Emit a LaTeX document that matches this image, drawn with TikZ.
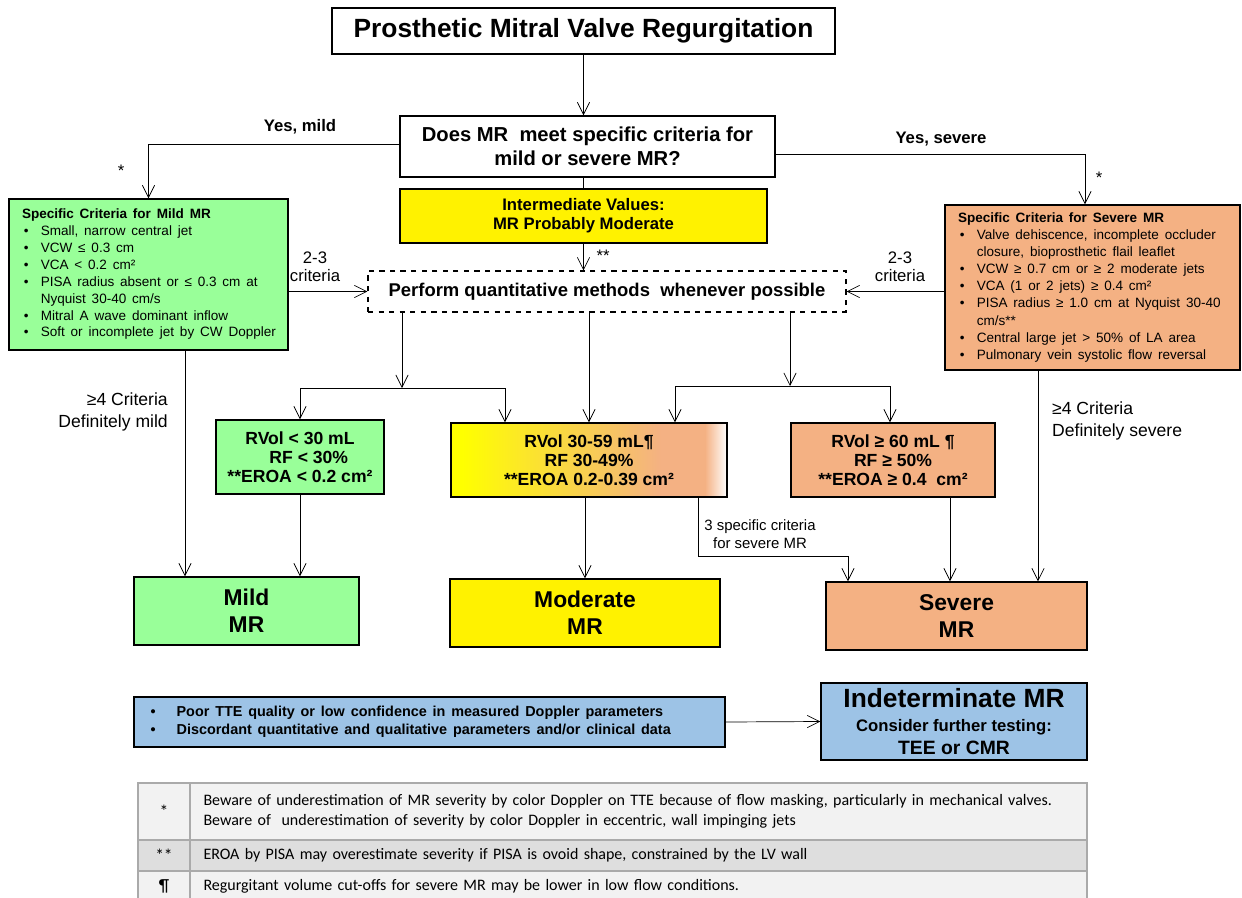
\documentclass[tikz,border=0pt]{standalone}
\usepackage{fontspec}
\setmainfont{Liberation Sans}
\newfontfamily\notefont{Carlito}
\usetikzlibrary{arrows.meta}
\newlength\pxl
\setlength\pxl{0.02cm}
\definecolor{mildgreen}{RGB}{153,255,153}
\definecolor{sevorange}{RGB}{244,177,131}
\definecolor{indetblue}{RGB}{157,195,230}
\definecolor{rowlight}{RGB}{242,242,242}
\definecolor{rowdark}{RGB}{222,222,222}
\definecolor{gridgray}{RGB}{170,170,170}
\pgfdeclarehorizontalshading{modgrad}{100bp}{color(0bp)=(yellow); color(27bp)=(yellow); color(63bp)=(sevorange); color(71bp)=(sevorange); color(75bp)=(white); color(100bp)=(white)}
\tikzset{
	x=\pxl, y=-\pxl,
	>={Straight Barb[length=7pt,width=7pt]},
	box/.style={draw, line width=0.8pt, align=center, inner sep=0pt},
	crit/.style={draw, line width=0.8pt, align=left, inner ysep=0pt, inner xsep=13\pxl},
	lbl/.style={font=\fontsize{9.5}{10.5}\selectfont, align=center},
	cell/.style={draw=gridgray, line width=1.2pt, inner sep=0pt}
}

\begin{document}
\begin{tikzpicture}
\useasboundingbox (0,0) rectangle (1242,897);

% top of the chart
\node[box, minimum width=503\pxl, minimum height=46\pxl, font=\fontsize{15}{18}\selectfont\bfseries] (title) at (583.5,31) {\raisebox{-2pt}{Prosthetic Mitral Valve Regurgitation}};
\node[box, minimum width=375\pxl, minimum height=61\pxl, font=\fontsize{11.5}{13.6}\selectfont\bfseries] (question) at (587.5,146.5) {Does MR~ meet specific criteria for\\mild or severe MR?};
\node[box, fill=yellow, minimum width=367\pxl, minimum height=54\pxl, font=\fontsize{9.5}{11}\selectfont\bfseries] (interm) at (583.5,216) {Intermediate Values:\\MR Probably Moderate};
\node[box, dashed, line width=0.6pt, minimum width=478\pxl, minimum height=41\pxl, font=\fontsize{10.5}{12}\selectfont\bfseries] (quant) at (607,291.5) {Perform quantitative methods~ whenever possible};

% specific criteria
\node[crit, fill=mildgreen, text width=253\pxl, minimum height=151\pxl] (mildcrit) at (148.5,274.5) {\fontsize{7.7}{9.6}\selectfont
\begin{tabular}{@{\hspace{1pt}}l@{\hspace{7pt}}l@{}}
\multicolumn{2}{@{}l@{}}{\bfseries Specific Criteria for Mild MR}\\
• & Small, narrow central jet\\
• & VCW ≤ 0.3 cm\\
• & VCA < 0.2 cm²\\
• & PISA radius absent or ≤ 0.3 cm at\\
  & Nyquist 30-40 cm/s\\
• & Mitral A wave dominant inflow\\
• & Soft or incomplete jet by CW Doppler
\end{tabular}};
\node[crit, fill=sevorange, text width=269\pxl, minimum height=165\pxl] (sevcrit) at (1092.5,287.5) {\fontsize{7.7}{9.7}\selectfont
\begin{tabular}{@{\hspace{1pt}}l@{\hspace{7pt}}l@{}}
\multicolumn{2}{@{}l@{}}{\bfseries Specific Criteria for Severe MR}\\
• & Valve dehiscence, incomplete occluder\\
  & closure, bioprosthetic flail leaflet\\
• & VCW ≥ 0.7 cm or ≥ 2 moderate jets\\
• & VCA (1 or 2 jets) ≥ 0.4 cm²\\
• & PISA radius ≥ 1.0 cm at Nyquist 30-40\\
  & cm/s**\\
• & Central large jet > 50\% of LA area\\
• & Pulmonary vein systolic flow reversal
\end{tabular}};

% quantitative values
\node[box, fill=mildgreen, minimum width=168\pxl, minimum height=74\pxl, font=\fontsize{10}{10.8}\selectfont\bfseries] (mildq) at (300,457) {RVol < 30 mL\\\hspace{1em}RF < 30\%\\**EROA < 0.2 cm²};
\node[box, shading=modgrad, minimum width=276\pxl, minimum height=74\pxl, font=\fontsize{10}{10.8}\selectfont\bfseries] (modq) at (589,460) {RVol 30-59 mL¶\\RF 30-49\%\\**EROA 0.2-0.39 cm²};
\node[box, fill=sevorange, minimum width=204\pxl, minimum height=74\pxl, font=\fontsize{10}{10.8}\selectfont\bfseries] (sevq) at (893,460) {RVol ≥ 60 mL ¶\\RF ≥ 50\%\\**EROA ≥ 0.4~ cm²};

% grades
\node[box, fill=mildgreen, minimum width=225\pxl, minimum height=68\pxl, font=\fontsize{13}{15.5}\selectfont\bfseries] (mild) at (246.5,611) {Mild\\MR};
\node[box, fill=yellow, minimum width=270\pxl, minimum height=68\pxl, font=\fontsize{13}{15.5}\selectfont\bfseries] (moderate) at (585,613) {Moderate\\MR};
\node[box, fill=sevorange, minimum width=261\pxl, minimum height=68\pxl, font=\fontsize{13}{15.5}\selectfont\bfseries] (severe) at (956.5,616) {Severe\\MR};

% indeterminate
\node[crit, fill=indetblue, text width=565\pxl, minimum height=50\pxl, inner xsep=13\pxl] (poor) at (429.5,722) {\fontsize{8.2}{10.2}\selectfont\bfseries
\begin{tabular}{@{\hspace{2pt}}l@{\hspace{12pt}}l@{}}
• & Poor TTE quality or low confidence in measured Doppler parameters\\
• & Discordant quantitative and qualitative parameters and/or clinical data
\end{tabular}};
\node[box, fill=indetblue, minimum width=266\pxl, minimum height=77\pxl, font=\fontsize{11}{13}\selectfont\bfseries] (indet) at (954,721.5) {{\fontsize{15}{17}\selectfont Indeterminate MR}\\[1pt]{\fontsize{9.5}{11}\selectfont Consider further testing:}\\TEE or CMR};

% connectors
\draw[->] (title.south) -- (title.south |- question.north);
\draw[->] (question.west |- 0,144) -| (mildcrit.north);
\draw[->] (question.east |- 0,154) -| (sevcrit.north -| 1085,0);
\draw (question.south -| interm.north) -- (interm.north);
\draw[->] (interm.south) -- (interm.south |- quant.north);
\draw[->] (quant.west -| mildcrit.east) -- (quant.west);
\draw[->] (quant.east -| sevcrit.west) -- (quant.east);

\coordinate (lsplit) at (402,388);
\coordinate (rsplit) at (790,386);
\draw[->] (quant.south -| lsplit) -- (lsplit);
\draw[->] (lsplit) -| (mildq.north);
\draw[->] (lsplit) -| (modq.north -| 505,0);
\draw[->] (quant.south -| modq.north) -- (modq.north);
\draw[->] (quant.south -| rsplit) -- (rsplit);
\draw[->] (rsplit) -| (modq.north -| 675,0);
\draw[->] (rsplit) -| (sevq.north -| 890,0);

\draw[->] (mildcrit.south -| 185,0) -- (mild.north -| 185,0);
\draw[->] (mildq.south) -- (mildq.south |- mild.north);
\draw[->] (modq.south -| moderate.north) -- (moderate.north);
\draw[->] (modq.south -| 698,0) -- (698,556) -| (severe.north -| 848,0);
\draw[->] (sevq.south -| 950,0) -- (severe.north -| 950,0);
\draw[->] (sevcrit.south -| 1038,0) -- (severe.north -| 1038,0);
\draw[->] (poor.east) -- (indet.west);

% labels
\node[lbl, font=\fontsize{9.5}{11}\selectfont\bfseries] (yesmild) at (300,127) {Yes, mild};
\node[lbl, font=\fontsize{9.5}{11}\selectfont\bfseries] (yessev) at (941,139) {Yes, severe};
\node[lbl] (starl) at (121,171) {*};
\node[lbl] (starr) at (1099,178) {*};
\node[lbl] (dstar) at (603,256) {**};
\node[lbl] (critl) at (315,267) {2-3\\criteria};
\node[lbl] (critr) at (900,267) {2-3\\criteria};
\node[lbl, font=\fontsize{10}{12.5}\selectfont, align=right, anchor=east] (defmild) at (174,412) {≥4 Criteria\\Definitely mild};
\node[lbl, font=\fontsize{10}{12.5}\selectfont, align=left, anchor=west] (defsev) at (1046,421) {≥4 Criteria\\Definitely severe};
\node[lbl, font=\fontsize{8.5}{10.2}\selectfont] (threecrit) at (760,534) {3 specific criteria\\for severe MR};

% notes table
\node[cell, fill=rowlight, minimum width=52\pxl, minimum height=57\pxl, font=\notefont\fontsize{10}{12}\selectfont] (sym1) at (164,811.5) {*};
\node[cell, fill=rowlight, minimum width=897\pxl, minimum height=57\pxl, text width=880\pxl, inner xsep=8\pxl, align=left, font=\notefont\fontsize{9.1}{11.3}\selectfont] (note1) at (638.5,811.5) {\hspace{5\pxl}Beware of underestimation of MR severity by color Doppler on TTE because of flow masking, particularly in mechanical valves.\\\hspace{5\pxl}Beware of~ underestimation of severity by color Doppler in eccentric, wall impinging jets};
\node[cell, fill=rowdark, minimum width=52\pxl, minimum height=31\pxl, font=\notefont\fontsize{10}{12}\selectfont] (sym2) at (164,855.5) {**};
\node[cell, fill=rowdark, minimum width=897\pxl, minimum height=31\pxl, text width=880\pxl, inner xsep=8\pxl, align=left, font=\notefont\fontsize{9.1}{11.3}\selectfont] (note2) at (638.5,855.5) {\hspace{5\pxl}EROA by PISA may overestimate severity if PISA is ovoid shape, constrained by the LV wall};
\node[cell, fill=rowlight, minimum width=52\pxl, minimum height=31\pxl, font=\notefont\fontsize{10}{12}\selectfont] (sym3) at (164,886.5) {¶};
\node[cell, fill=rowlight, minimum width=897\pxl, minimum height=31\pxl, text width=880\pxl, inner xsep=8\pxl, align=left, font=\notefont\fontsize{9.1}{11.3}\selectfont] (note3) at (638.5,886.5) {\hspace{5\pxl}Regurgitant volume cut-offs for severe MR may be lower in low flow conditions.};

\end{tikzpicture}
\end{document}
